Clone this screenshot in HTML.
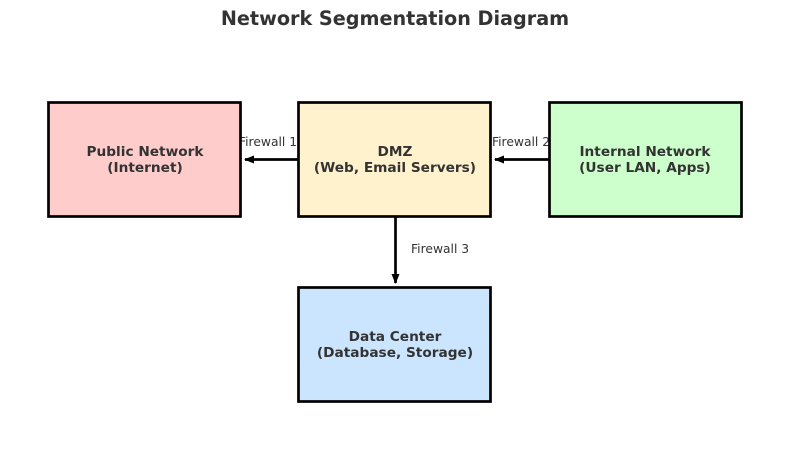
<!DOCTYPE html>
<html><head><style>html,body{margin:0;padding:0;background:#fff;}</style></head>
<body>
<svg width="804" height="471" xmlns="http://www.w3.org/2000/svg" font-family="DejaVu Sans, Liberation Sans, sans-serif">
<defs><marker id="a" markerWidth="10" markerHeight="8" refX="9" refY="4" orient="auto" markerUnits="userSpaceOnUse"><path d="M0,0 L10,4 L0,8 z" fill="#000"/></marker></defs>
<text x="395" y="25" text-anchor="middle" font-size="19.2" font-weight="bold" fill="#333">Network Segmentation Diagram</text>
<g font-size="12.3" fill="#333">
<text x="268" y="146" text-anchor="middle">Firewall 1</text>
<text x="521" y="146" text-anchor="middle">Firewall 2</text>
<text x="411" y="253">Firewall 3</text>
</g>
<g stroke="#000" stroke-width="2.7">
<rect x="48.5" y="102.5" width="192" height="114" fill="#ffcccc"/>
<rect x="298.5" y="102.5" width="192" height="114" fill="#fff2cc"/>
<rect x="549.5" y="102.5" width="192" height="114" fill="#ccffcc"/>
<rect x="298.5" y="287.5" width="192" height="114" fill="#cce5ff"/>
<line x1="298" y1="159.5" x2="245" y2="159.5" marker-end="url(#a)"/>
<line x1="549" y1="159.5" x2="495" y2="159.5" marker-end="url(#a)"/>
<line x1="395.5" y1="217" x2="395.5" y2="283" marker-end="url(#a)"/>
</g>
<g font-size="13.7" font-weight="bold" fill="#333" text-anchor="middle">
<text x="145" y="156">Public Network</text><text x="145" y="172">(Internet)</text>
<text x="395" y="156">DMZ</text><text x="395" y="172">(Web, Email Servers)</text>
<text x="645" y="156">Internal Network</text><text x="645" y="172">(User LAN, Apps)</text>
<text x="395" y="341">Data Center</text><text x="395" y="357">(Database, Storage)</text>
</g>
</svg>
</body></html>
